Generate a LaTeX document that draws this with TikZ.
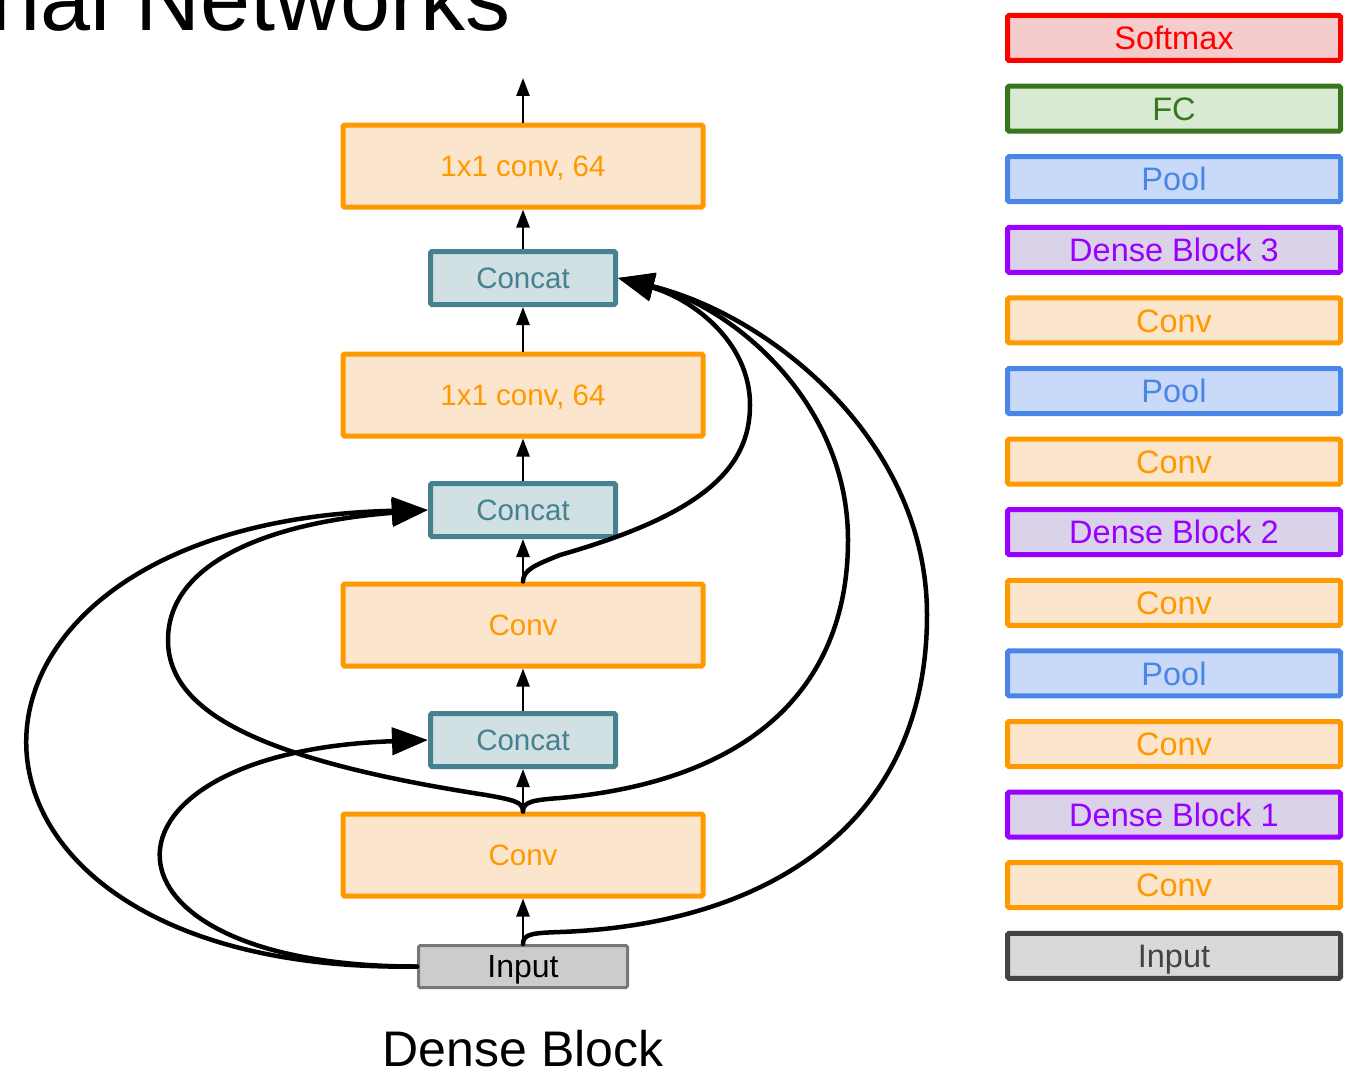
\documentclass[tikz,border=0pt]{standalone}
\usepackage{fontspec}
\setmainfont{Liberation Sans}
\usetikzlibrary{arrows.meta}

% palette
\definecolor{convD}{HTML}{FF9900}
\definecolor{convF}{HTML}{FCE5CD}
\definecolor{catD}{HTML}{45818E}
\definecolor{catF}{HTML}{D0E0E3}
\definecolor{inD}{HTML}{777777}
\definecolor{inF}{HTML}{CCCCCC}
\definecolor{smD}{HTML}{FF0000}
\definecolor{smF}{HTML}{F4CCCC}
\definecolor{fcD}{HTML}{38761D}
\definecolor{fcF}{HTML}{D9EAD3}
\definecolor{poolD}{HTML}{4A86E8}
\definecolor{poolF}{HTML}{C9DAF8}
\definecolor{dbD}{HTML}{9900FF}
\definecolor{dbF}{HTML}{D9D2E9}
\definecolor{linD}{HTML}{434343}
\definecolor{linF}{HTML}{D9D9D9}

\tikzset{
  box/.style={draw, rounded corners=1.5pt, inner sep=0pt, line width=5pt,
    font=\fontsize{29.5}{32}\selectfont, text height=21.1pt, text depth=0pt},
  convbox/.style={box, draw=convD, fill=convF, text=convD,
    minimum width=360pt, minimum height=82pt},
  catbox/.style={box, draw=catD, fill=catF, text=catD,
    minimum width=185pt, minimum height=53pt},
  inbox/.style={box, line width=3pt, draw=inD, fill=inF, text=black,
    minimum width=209pt, minimum height=42pt,
    font=\fontsize{32}{34}\selectfont, text height=22.9pt},
  flow/.style={line width=2.5pt, -{Triangle[length=18pt,width=13pt]}},
  skipline/.style={line width=4.5pt, line cap=round,
    -{Triangle[length=36pt,width=27pt]}},
  legend/.style={draw, line width=5pt, rounded corners=1.5pt, inner sep=0pt,
    minimum width=333pt, minimum height=45pt,
    font=\fontsize{32.5}{34}\selectfont, text height=23.3pt, text depth=0pt},
  lconv/.style={legend, draw=convD, fill=convF, text=convD},
  lpool/.style={legend, draw=poolD, fill=poolF, text=poolD},
  ldense/.style={legend, draw=dbD, fill=dbF, text=dbD}
}

\begin{document}
\begin{tikzpicture}[x=1pt, y=-1pt]
\useasboundingbox (0,0) rectangle (1345,1073);

% heading
\node[anchor=base east, inner sep=0pt, font=\fontsize{90}{90}\selectfont]
  (title) at (511,31) {nal Networks};

% dense block layers
\node[convbox] (b2)   at (523,166)   {1x1 conv, 64};
\node[catbox]  (cat1) at (523,278)   {Concat};
\node[convbox] (b1)   at (523,395)   {1x1 conv, 64};
\node[catbox]  (cat2) at (523,510)   {Concat};
\node[convbox] (c2)   at (523,625)   {Conv};
\node[catbox]  (cat3) at (523,740)   {Concat};
\node[convbox] (c1)   at (523,855)   {Conv};
\node[inbox]   (inp)  at (523,966.5) {Input};
\coordinate (out) at (523,78);

\node[anchor=base, inner sep=0pt, font=\fontsize{50}{52}\selectfont]
  (caption) at (523,1066) {Dense Block};

% main flow
\draw[flow] (inp.north)  -- (c1.south);
\draw[flow] (c1.north)   -- (cat3.south);
\draw[flow] (cat3.north) -- (c2.south);
\draw[flow] (c2.north)   -- (cat2.south);
\draw[flow] (cat2.north) -- (b1.south);
\draw[flow] (b1.north)   -- (cat1.south);
\draw[flow] (cat1.north) -- (b2.south);
\draw[flow] (b2.north)   -- (out);

% dense connections, left side
\draw[skipline] (inp.west) .. controls (78,967) and (78,752) .. (cat3.west);
\draw[skipline] (inp.west) .. controls (-100,975) and (-100,522) .. (cat2.west);
\draw[skipline] (c1.north) .. controls (523,802) and (514,800) .. (486,795)
  .. controls (260,760) and (168,712) .. (168,640)
  .. controls (168,560) and (275,522) .. (cat2.west);

% dense connections, right side
\draw[skipline] (c2.north) .. controls (523,570) and (535,565) .. (560,555)
  .. controls (700,515) and (750,470) .. (750,405)
  .. controls (750,340) and (690,298) .. (cat1.east);
\draw[skipline] (c1.north) .. controls (523,802) and (532,800) .. (560,798)
  .. controls (760,780) and (848,680) .. (848,540)
  .. controls (848,400) and (730,305) .. (cat1.east);
\draw[skipline] (inp.north) .. controls (523,934) and (532,933) .. (560,932)
  .. controls (760,925) and (927,830) .. (927,615)
  .. controls (927,440) and (770,315) .. (cat1.east);

% network overview column
\node[legend, draw=smD, fill=smF, text=smD] (lsoft) at (1174,38)    {Softmax};
\node[legend, draw=fcD, fill=fcF, text=fcD] (lfc)   at (1174,108.6) {FC};
\node[lpool]  (lpool3) at (1174,179.2) {Pool};
\node[ldense] (ldb3)   at (1174,249.8) {Dense Block 3};
\node[lconv]  (lconv4) at (1174,320.4) {Conv};
\node[lpool]  (lpool2) at (1174,391)   {Pool};
\node[lconv]  (lconv3) at (1174,461.6) {Conv};
\node[ldense] (ldb2)   at (1174,532.2) {Dense Block 2};
\node[lconv]  (lconv2) at (1174,602.8) {Conv};
\node[lpool]  (lpool1) at (1174,673.4) {Pool};
\node[lconv]  (lconv1) at (1174,744)   {Conv};
\node[ldense] (ldb1)   at (1174,814.6) {Dense Block 1};
\node[lconv]  (lconv0) at (1174,885.2) {Conv};
\node[legend, draw=linD, fill=linF, text=linD] (linput) at (1174,955.8) {Input};
\end{tikzpicture}
\end{document}
